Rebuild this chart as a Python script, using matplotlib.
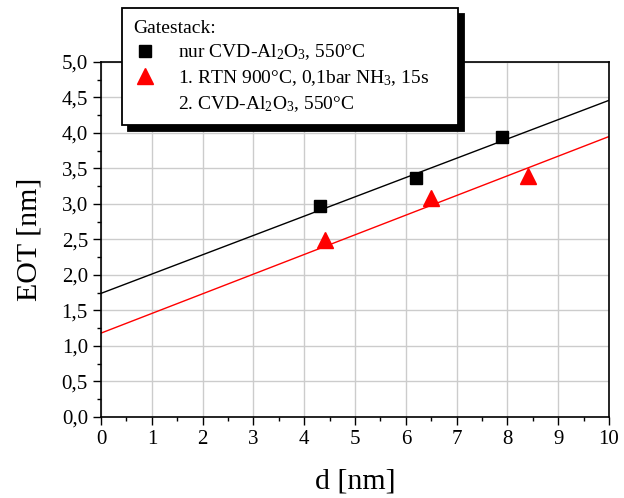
import numpy as np
import matplotlib
matplotlib.use('Agg')
from matplotlib import pyplot as plt
from matplotlib.lines import Line2D
from matplotlib.ticker import MultipleLocator

plt.rcParams['font.family'] = ['Liberation Serif', 'DejaVu Serif']
plt.rcParams['mathtext.fontset'] = 'custom'
plt.rcParams['mathtext.rm'] = 'Liberation Serif'
plt.rcParams['mathtext.it'] = 'Liberation Serif:italic'

# Messwerte
d_al2o3 = [4.3, 6.2, 7.9]
eot_al2o3 = [2.97, 3.36, 3.95]
d_rtn = [4.4, 6.5, 8.4]
eot_rtn = [2.49, 3.08, 3.40]

# Fitgeraden (Endpunkte bei d=0 und d=10)
fit_x = [0, 10]
fit_al2o3 = [1.74, 4.46]
fit_rtn = [1.18, 3.95]

fig = plt.figure(figsize=(6.24, 4.98), dpi=100)
ax = fig.add_axes([0.162, 0.163, 0.814, 0.7125])

ax.plot(fit_x, fit_al2o3, color='black', lw=1.0, zorder=2)
ax.plot(fit_x, fit_rtn, color='red', lw=1.0, zorder=2)
ax.plot(d_al2o3, eot_al2o3, 's', color='black', ms=9, zorder=3)
ax.plot(d_rtn, eot_rtn, '^', color='red', ms=11, zorder=3)

ax.set_xlim(0, 10)
ax.set_ylim(0, 5)
ax.xaxis.set_major_locator(MultipleLocator(1))
ax.xaxis.set_minor_locator(MultipleLocator(0.5))
ax.yaxis.set_major_locator(MultipleLocator(0.5))
ax.yaxis.set_minor_locator(MultipleLocator(0.25))
ax.yaxis.set_major_formatter(lambda v, p: ('%.1f' % v).replace('.', ','))
ax.grid(True, which='major', color='#cccccc', lw=1.0)
ax.set_axisbelow(True)
ax.tick_params(which='major', length=6, width=1, labelsize=15, direction='out')
ax.tick_params(which='minor', length=3, width=1, direction='out')
for s in ax.spines.values():
    s.set_linewidth(1.2)

ax.set_xlabel('d [nm]', fontsize=21.5, labelpad=14)
ax.set_ylabel('EOT [nm]', fontsize=21.5, labelpad=14)

handles = [
    Line2D([], [], marker='s', color='black', ls='none', ms=9),
    Line2D([], [], marker='^', color='red', ls='none', ms=11),
    Line2D([], [], ls='none'),
]
labels = [
    'nur CVD-Al$_2$O$_3$, 550°C',
    '1. RTN 900°C, 0,1bar NH$_3$, 15s',
    '2. CVD-Al$_2$O$_3$, 550°C',
]
leg = fig.legend(handles, labels, title='Gatestack:', loc='upper left',
                 bbox_to_anchor=(122 / 624, 0.5, 336 / 624, 1 - 8 / 498 - 0.5),
                 mode='expand', borderaxespad=0, fontsize=14,
                 title_fontsize=14, fancybox=False, edgecolor='black',
                 framealpha=1, shadow={'color': 'black', 'alpha': 1, 'ox': 4, 'oy': -4},
                 handlelength=1.2, handletextpad=1.1, labelspacing=0.3,
                 borderpad=0.6)
leg._legend_box.align = 'left'
leg.get_frame().set_linewidth(1.3)

fig.savefig('out.png', dpi=100)
